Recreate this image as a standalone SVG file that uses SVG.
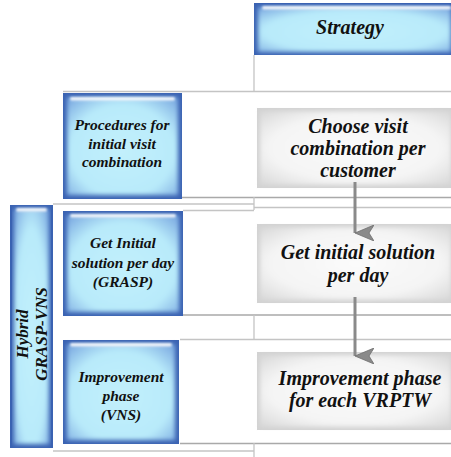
<svg xmlns="http://www.w3.org/2000/svg" width="451" height="457" viewBox="0 0 451 457">
<defs>
  <radialGradient id="blueIn" cx="50%" cy="55%" r="72%">
    <stop offset="0" stop-color="#c2f0fc"/>
    <stop offset="0.65" stop-color="#b8eafa"/>
    <stop offset="1" stop-color="#7aa8e0"/>
  </radialGradient>
  <radialGradient id="grayIn" cx="50%" cy="50%" r="70%">
    <stop offset="0" stop-color="#fbfbfb"/>
    <stop offset="0.65" stop-color="#f4f4f4"/>
    <stop offset="1" stop-color="#d8d8d8"/>
  </radialGradient>
  <filter id="soft" x="-5%" y="-5%" width="110%" height="110%">
    <feGaussianBlur stdDeviation="2.2"/>
  </filter>
  <filter id="hl" x="-5%" y="-50%" width="110%" height="200%">
    <feGaussianBlur stdDeviation="0.8"/>
  </filter>
  <marker id="arr" viewBox="0 0 16 20" refX="8" refY="19" markerWidth="16" markerHeight="20" markerUnits="userSpaceOnUse" orient="auto-start-reverse">
    <path d="M0,0 L8,5 L16,0 L8,19 Z" fill="#8a8a8a" stroke="#6e6e6e" stroke-width="0.8"/>
  </marker>
</defs>

<g id="grid-lines" fill="none" stroke="#c4c4c4" stroke-width="1.3">
  <line x1="254" y1="55" x2="254" y2="92"/>
  <line x1="63" y1="91.5" x2="451" y2="91.5"/>
  <line x1="182" y1="197.5" x2="451" y2="197.5" stroke="#a9a9a9" stroke-width="1.6"/>
  <line x1="53" y1="204" x2="254" y2="204"/>
  <line x1="254" y1="197" x2="254" y2="210"/>
  <line x1="254" y1="207.5" x2="451" y2="207.5"/>
  <line x1="183" y1="210.5" x2="254" y2="210.5"/>
  <line x1="63" y1="315" x2="451" y2="315" stroke="#a9a9a9" stroke-width="1.6"/>
  <line x1="254" y1="315" x2="254" y2="339"/>
  <line x1="180" y1="339.5" x2="451" y2="339.5"/>
  <line x1="180" y1="443.5" x2="451" y2="443.5" stroke="#a9a9a9" stroke-width="1.6"/>
  <line x1="53" y1="451" x2="254" y2="451"/>
  <line x1="254" y1="443" x2="254" y2="457"/>
</g>

<g id="strategy">
  <rect x="254" y="3" width="197" height="52" fill="#3a62b2"/>
  <rect x="258" y="7" width="193" height="45" fill="url(#blueIn)" filter="url(#soft)"/>
  <rect x="262" y="6" width="189" height="3.5" rx="1.7" fill="#fff" opacity="0.9" filter="url(#hl)"/>
  <text x="350" y="34" font-size="20" font-weight="bold" font-style="italic" fill="#111" text-anchor="middle" font-family="Liberation Serif" style="font-family:'Liberation Serif';font-style:italic;font-weight:bold">Strategy</text>
</g>

<g id="procedures">
  <rect x="63" y="93" width="119" height="106" fill="#3a62b2"/>
  <rect x="67" y="97" width="111" height="98" fill="url(#blueIn)" filter="url(#soft)"/>
  <rect x="70" y="97" width="105" height="3.5" rx="1.7" fill="#fff" opacity="0.9" filter="url(#hl)"/>
  <text font-size="15.5" font-weight="bold" font-style="italic" fill="#111" text-anchor="middle" font-family="Liberation Serif" style="font-family:'Liberation Serif';font-style:italic;font-weight:bold"><tspan x="122" y="130">Procedures for</tspan><tspan x="122" y="148.5">initial visit</tspan><tspan x="122" y="167">combination</tspan></text>
</g>

<g id="hybrid">
  <rect x="10" y="205" width="43" height="243" fill="#3a62b2"/>
  <rect x="14" y="209" width="35" height="235" fill="url(#blueIn)" filter="url(#soft)"/>
  <rect x="16" y="208" width="31" height="3.5" rx="1.7" fill="#fff" opacity="0.9" filter="url(#hl)"/>
  <text font-size="17" font-weight="bold" font-style="italic" fill="#111" text-anchor="middle" font-family="Liberation Serif" style="font-family:'Liberation Serif';font-style:italic;font-weight:bold" transform="translate(28,334) rotate(-90)"><tspan x="0" y="0">Hybrid</tspan><tspan x="0" y="19">GRASP-VNS</tspan></text>
</g>

<g id="get-initial-left">
  <rect x="63" y="211" width="120" height="105" fill="#3a62b2"/>
  <rect x="67" y="215" width="112" height="97" fill="url(#blueIn)" filter="url(#soft)"/>
  <rect x="70" y="214" width="106" height="3.5" rx="1.7" fill="#fff" opacity="0.9" filter="url(#hl)"/>
  <text font-size="15.5" font-weight="bold" font-style="italic" fill="#111" text-anchor="middle" font-family="Liberation Serif" style="font-family:'Liberation Serif';font-style:italic;font-weight:bold"><tspan x="123" y="248">Get Initial</tspan><tspan x="123" y="268">solution per day</tspan><tspan x="123" y="287">(GRASP)</tspan></text>
</g>

<g id="improvement-left">
  <rect x="63" y="340" width="116" height="104" fill="#3a62b2"/>
  <rect x="67" y="344" width="108" height="96" fill="url(#blueIn)" filter="url(#soft)"/>
  <rect x="70" y="343" width="102" height="3.5" rx="1.7" fill="#fff" opacity="0.9" filter="url(#hl)"/>
  <text font-size="15.5" font-weight="bold" font-style="italic" fill="#111" text-anchor="middle" font-family="Liberation Serif" style="font-family:'Liberation Serif';font-style:italic;font-weight:bold"><tspan x="121" y="382">Improvement</tspan><tspan x="121" y="401">phase</tspan><tspan x="121" y="420">(VNS)</tspan></text>
</g>

<g id="choose-visit">
  <rect x="257" y="108" width="194" height="80" fill="#d2d2d2"/>
  <rect x="260" y="111" width="191" height="74" fill="url(#grayIn)" filter="url(#soft)"/>
  <text font-size="20" font-weight="bold" font-style="italic" fill="#111" text-anchor="middle" font-family="Liberation Serif" style="font-family:'Liberation Serif';font-style:italic;font-weight:bold"><tspan x="358" y="133">Choose visit</tspan><tspan x="358" y="155">combination per</tspan><tspan x="358" y="177">customer</tspan></text>
</g>

<g id="get-initial-right">
  <rect x="257" y="224" width="194" height="79" fill="#d2d2d2"/>
  <rect x="260" y="227" width="191" height="73" fill="url(#grayIn)" filter="url(#soft)"/>
  <text font-size="20" font-weight="bold" font-style="italic" fill="#111" text-anchor="middle" font-family="Liberation Serif" style="font-family:'Liberation Serif';font-style:italic;font-weight:bold"><tspan x="358" y="259">Get initial solution</tspan><tspan x="358" y="282">per day</tspan></text>
</g>

<g id="improvement-right">
  <rect x="257" y="352" width="194" height="78" fill="#d2d2d2"/>
  <rect x="260" y="355" width="191" height="72" fill="url(#grayIn)" filter="url(#soft)"/>
  <text font-size="20" font-weight="bold" font-style="italic" fill="#111" text-anchor="middle" font-family="Liberation Serif" style="font-family:'Liberation Serif';font-style:italic;font-weight:bold"><tspan x="360" y="385">Improvement phase</tspan><tspan x="360" y="407">for each VRPTW</tspan></text>
</g>

<g id="connectors" fill="none" stroke="#8a8a8a" stroke-width="3">
  <line x1="355" y1="182" x2="355" y2="233" marker-end="url(#arr)"/>
  <line x1="355" y1="297" x2="355" y2="356" marker-end="url(#arr)"/>
</g>
</svg>
